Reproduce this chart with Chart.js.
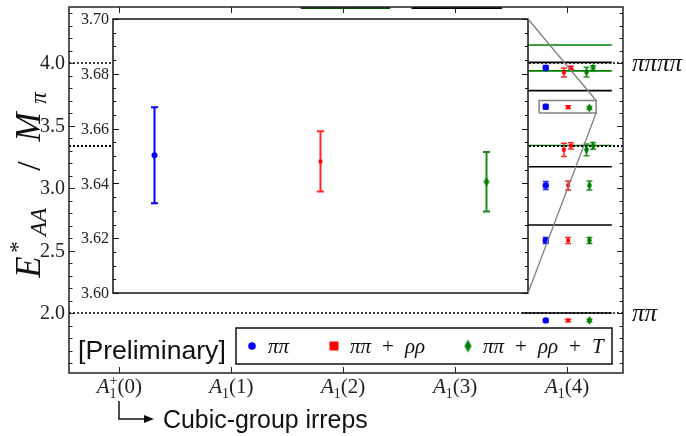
<!DOCTYPE html>
<html><head><meta charset="utf-8">
<script src="https://cdn.jsdelivr.net/npm/chart.js@4.4.1/dist/chart.umd.min.js"></script>
<style>
html,body{margin:0;padding:0;background:#fff;overflow:hidden}
#wrap{position:relative;width:686px;height:436px}
#wrap canvas{position:absolute;left:0;top:0}
</style></head><body>
<div id="wrap"><canvas id="main" width="686" height="436"></canvas><canvas id="inset" width="686" height="436"></canvas></div>
<script>
// ---------------- data ----------------
const irrepPos = [0, 1, 2, 3, 4];
const irrepSub = ['1', '1', '1', '1', '1'];
const irrepSup = ['+', '', '', '', ''];
const irrepMom = ['(0)', '(1)', '(2)', '(3)', '(4)'];
const yTickVals = [2.0, 2.5, 3.0, 3.5, 4.0];
const insetTickVals = [3.60, 3.62, 3.64, 3.66, 3.68, 3.70];
const seriesNames = ['ππ', 'ππ + ρρ', 'ππ + ρρ + T'];
const seriesColors = ['#0000ff', '#ff0000', '#008000'];

// A1(4) spectrum (main panel)
const pipiX = [3.81, 3.81, 3.81, 3.81, 3.81];
const pipiY = [3.960, 3.6503, 3.021, 2.581, 1.941];
const pipiE = [0.020, 0.0175, 0.032, 0.024, 0.010];
const rhoX = [3.972, 4.035, 4.01, 3.972, 4.035, 4.01, 4.01, 4.01];
const rhoY = [3.925, 3.962, 3.648, 3.306, 3.338, 3.021, 2.581, 1.941];
const rhoE = [0.036, 0.012, 0.011, 0.053, 0.025, 0.036, 0.024, 0.010];
const tX = [4.174, 4.232, 4.20, 4.174, 4.232, 4.20, 4.20, 4.20];
const tY = [3.928, 3.960, 3.6406, 3.306, 3.338, 3.021, 2.581, 1.941];
const tE = [0.039, 0.019, 0.0109, 0.047, 0.027, 0.036, 0.024, 0.010];

// inset: the level near 3.65
const insetX = [0, 1, 2];
const insetY = [3.6503, 3.6480, 3.6406];
const insetE = [0.0175, 0.0110, 0.0109];

// non-interacting levels
const a4LevelsBlack = [4.005, 3.779, 3.170, 2.704, 2.000];
const a4LevelsGreen = [4.144, 3.937, 3.340];
const a4LevelSpan = [3.6, 4.4];
const topLevelGreenSpan = [1.62, 2.42];
const topLevelBlackSpan = [2.61, 3.42];
const topLevelValue = 4.44;
// thresholds
const thrPiPi = [2.0, 4.0];
const thrRhoRho = 3.336;
const thrNames = ['ππ', 'ππππ'];
// zoom box (main coords)
const zoomBoxX = [3.75, 4.26];
const zoomBoxY = [3.60, 3.70];

const X_MIN = -0.45, X_MAX = 4.5, Y_MIN = 1.52, Y_MAX = 4.448;
const SERIF = '"Liberation Serif", "DejaVu Serif", serif';
const SANS = '"Liberation Sans", "DejaVu Sans", sans-serif';

// ---------------- helpers ----------------
function diamondImg(w, h, color) {
  const c = document.createElement('canvas');
  c.width = w + 2; c.height = h + 2;
  const g = c.getContext('2d');
  g.fillStyle = color;
  g.beginPath();
  g.moveTo(c.width / 2, 1); g.lineTo(c.width - 1, c.height / 2);
  g.lineTo(c.width / 2, c.height - 1); g.lineTo(1, c.height / 2);
  g.closePath(); g.fill();
  return c;
}
const pts = (xs, ys) => xs.map((x, i) => ({x: x, y: ys[i]}));
const hline = (x0, x1, v) => [{x: x0, y: v}, {x: x1, y: v}];

function drawErrors(chart) {
  const {ctx, scales: {x, y}} = chart;
  chart.data.datasets.forEach(ds => {
    if (!ds.errs) return;
    ctx.save();
    ctx.strokeStyle = ds.errColor; ctx.lineWidth = ds.errWidth;
    ds.data.forEach((p, i) => {
      const px = x.getPixelForValue(p.x);
      const y1 = y.getPixelForValue(p.y + ds.errs[i]);
      const y2 = y.getPixelForValue(p.y - ds.errs[i]);
      ctx.beginPath();
      ctx.moveTo(px, y1); ctx.lineTo(px, y2);
      ctx.moveTo(px - ds.cap, y1); ctx.lineTo(px + ds.cap, y1);
      ctx.moveTo(px - ds.cap, y2); ctx.lineTo(px + ds.cap, y2);
      ctx.stroke();
    });
    ctx.restore();
  });
}
function fitFont(ctx, text, family, style, target) {
  ctx.font = style + ' 100px ' + family;
  const w = ctx.measureText(text).width;
  return 100 * target / w;
}
function mathLabel(ctx, parts, x, y, align) {
  let cur = 0, lastStart = 0;
  const pos = [];
  parts.forEach(p => {
    ctx.font = p.font;
    const w = ctx.measureText(p.t).width;
    let start;
    if (p.stack) { start = lastStart; cur = Math.max(cur, start + w); }
    else { start = cur; cur = start + w; }
    lastStart = start;
    pos.push(start);
  });
  const total = cur;
  let x0 = x;
  if (align === 'center') x0 = x - total / 2;
  else if (align === 'right') x0 = x - total;
  ctx.textBaseline = 'alphabetic'; ctx.textAlign = 'left';
  parts.forEach((p, i) => {
    ctx.font = p.font;
    ctx.fillText(p.t, x0 + pos[i], y + (p.dy || 0));
  });
  return total;
}
function vText(ctx, t, font, sx, sy) {
  ctx.save();
  ctx.translate(sx, sy); ctx.rotate(-Math.PI / 2);
  ctx.font = font; ctx.textAlign = 'center'; ctx.textBaseline = 'alphabetic';
  ctx.fillText(t, 0, 0);
  ctx.restore();
}
// math text with TeX-like wide spacing around binary operators
function spacedText(ctx, s, x, y, gap) {
  const toks = s.split(' ');
  let cx = x;
  toks.forEach((tk, i) => {
    ctx.font = (tk === '+' ? '' : 'italic ') + '21px ' + SERIF;
    ctx.fillText(tk, cx, y);
    cx += ctx.measureText(tk).width + (i < toks.length - 1 ? gap : 0);
  });
}

// ---------------- main chart ----------------
const levelDatasets = [];
a4LevelsBlack.forEach(v => levelDatasets.push({type: 'line', data: hline(a4LevelSpan[0], a4LevelSpan[1], v), borderColor: '#000', borderWidth: 1.6, pointRadius: 0, order: 5}));
a4LevelsGreen.forEach(v => levelDatasets.push({type: 'line', data: hline(a4LevelSpan[0], a4LevelSpan[1], v), borderColor: '#008000', borderWidth: 1.6, pointRadius: 0, order: 5}));
levelDatasets.push({type: 'line', data: hline(topLevelGreenSpan[0], topLevelGreenSpan[1], topLevelValue), borderColor: '#004d00', borderWidth: 2, pointRadius: 0, order: 5});
levelDatasets.push({type: 'line', data: hline(topLevelBlackSpan[0], topLevelBlackSpan[1], topLevelValue), borderColor: '#000', borderWidth: 2, pointRadius: 0, order: 5});
thrPiPi.forEach(v => levelDatasets.push({type: 'line', data: hline(X_MIN, X_MAX, v), borderColor: '#000', borderWidth: 1.3, borderDash: [2, 2], pointRadius: 0, order: 6}));
levelDatasets.push({type: 'line', data: hline(X_MIN, X_MAX, thrRhoRho), borderColor: '#000', borderWidth: 2, borderDash: [2, 2], pointRadius: 0, order: 4});
levelDatasets.push({type: 'line', data: [
  {x: zoomBoxX[0], y: zoomBoxY[0]}, {x: zoomBoxX[1], y: zoomBoxY[0]}, {x: zoomBoxX[1], y: zoomBoxY[1]},
  {x: zoomBoxX[0], y: zoomBoxY[1]}, {x: zoomBoxX[0], y: zoomBoxY[0]}],
  borderColor: '#808080', borderWidth: 1.5, pointRadius: 0, order: 3});

const greenDiamondSmall = diamondImg(5, 9, '#008000');
const greenDiamondLegend = diamondImg(7, 13, '#008000');
const greenDiamondInset = diamondImg(6, 9, '#008000');

const mainDecor = {
  id: 'mainDecor',
  beforeDatasetsDraw(chart) { drawErrors(chart); },
  afterDraw(chart) {
    const {ctx, chartArea: a, scales: {x, y}} = chart;
    ctx.save();
    // frame
    ctx.strokeStyle = '#222'; ctx.lineWidth = 1.5;
    ctx.strokeRect(a.left, a.top, a.right - a.left, a.bottom - a.top);
    // y ticks
    ctx.lineWidth = 1;
    for (let k = Math.ceil(Y_MIN * 10); k <= Math.floor(Y_MAX * 10); k++) {
      const v = k / 10, py = Math.round(y.getPixelForValue(v)) + 0.5;
      const major = yTickVals.some(t => Math.abs(t - v) < 1e-6);
      const L = major ? 6 : 3.5;
      ctx.beginPath();
      ctx.moveTo(a.left, py); ctx.lineTo(a.left + L, py);
      ctx.moveTo(a.right, py); ctx.lineTo(a.right - L, py);
      ctx.stroke();
    }
    // x ticks
    irrepPos.forEach(v => {
      const px = Math.round(x.getPixelForValue(v)) + 0.5;
      ctx.beginPath();
      ctx.moveTo(px, a.bottom); ctx.lineTo(px, a.bottom - 6);
      ctx.moveTo(px, a.top); ctx.lineTo(px, a.top + 6);
      ctx.stroke();
    });
    // y tick labels
    ctx.fillStyle = '#222';
    ctx.font = '20px ' + SERIF; ctx.textAlign = 'right'; ctx.textBaseline = 'middle';
    yTickVals.forEach(v => ctx.fillText(v.toFixed(1), a.left - 4, y.getPixelForValue(v) + 1));
    // x tick labels
    irrepPos.forEach((v, i) => {
      const parts = [
        {t: 'A', font: 'italic 21px ' + SERIF},
        {t: irrepSub[i], font: '14px ' + SERIF, dy: 5},
      ];
      if (irrepSup[i]) parts.push({t: irrepSup[i], font: '14px ' + SERIF, dy: -8, stack: true});
      parts.push({t: irrepMom[i], font: '21px ' + SERIF});
      mathLabel(ctx, parts, x.getPixelForValue(v), a.bottom + 20, 'center');
    });
    // threshold names
    ctx.fillStyle = '#111';
    thrPiPi.forEach((v, i) => {
      ctx.font = 'italic 25px ' + SERIF; ctx.textAlign = 'left'; ctx.textBaseline = 'middle';
      ctx.fillText(thrNames[i], a.right + 9, y.getPixelForValue(v) + 1);
    });
    // y axis title  E*_AA / M_pi
    ctx.fillStyle = '#111';
    vText(ctx, 'E', 'italic 35px ' + SERIF, 40, 267);
    vText(ctx, '*', '23px ' + SERIF, 25, 247);
    vText(ctx, 'AA', 'italic 23px ' + SERIF, 46, 222);
    vText(ctx, '/', '34px ' + SERIF, 40, 166);
    vText(ctx, 'M', 'italic 35px ' + SERIF, 40, 127);
    vText(ctx, 'π', 'italic 23px ' + SERIF, 46, 98);
    // legend
    const L = {l: 236, t: 328, r: 612, b: 364};
    ctx.fillStyle = '#fff'; ctx.fillRect(L.l, L.t, L.r - L.l, L.b - L.t);
    ctx.strokeStyle = '#111'; ctx.lineWidth = 1.5; ctx.strokeRect(L.l, L.t, L.r - L.l, L.b - L.t);
    const my = (L.t + L.b) / 2;
    const mx = [252, 334, 468], tx = [268, 350, 483];
    ctx.fillStyle = seriesColors[0]; ctx.beginPath(); ctx.arc(mx[0], my, 3.8, 0, Math.PI * 2); ctx.fill();
    ctx.fillStyle = seriesColors[1]; ctx.fillRect(mx[1] - 4.5, my - 4.5, 9, 9);
    ctx.drawImage(greenDiamondLegend, mx[2] - greenDiamondLegend.width / 2, my - greenDiamondLegend.height / 2);
    ctx.fillStyle = '#111'; ctx.textAlign = 'left'; ctx.textBaseline = 'middle';
    seriesNames.forEach((s, i) => spacedText(ctx, s, tx[i], my + 1, 11));
    // [Preliminary]
    const fs = fitFont(ctx, '[Preliminary]', SANS, '', 148);
    ctx.font = fs.toFixed(1) + 'px ' + SANS; ctx.textBaseline = 'middle';
    ctx.fillText('[Preliminary]', 78, 352);
    // bottom annotation
    ctx.strokeStyle = '#111'; ctx.lineWidth = 1.5;
    ctx.beginPath(); ctx.moveTo(119, 401); ctx.lineTo(119, 419); ctx.lineTo(146, 419); ctx.stroke();
    ctx.fillStyle = '#111'; ctx.beginPath(); ctx.moveTo(154, 419); ctx.lineTo(144, 415); ctx.lineTo(144, 423); ctx.closePath(); ctx.fill();
    const fs2 = fitFont(ctx, 'Cubic-group irreps', SANS, '', 205);
    ctx.font = fs2.toFixed(1) + 'px ' + SANS;
    ctx.fillText('Cubic-group irreps', 163, 421);
    ctx.restore();
  }
};

const mainChart = new Chart(document.getElementById('main'), {
  type: 'scatter',
  data: {
    datasets: [
      ...levelDatasets,
      {label: seriesNames[0], data: pts(pipiX, pipiY), errs: pipiE, errColor: 'rgba(0,0,255,0.85)', errWidth: 1.5, cap: 3,
       pointStyle: 'circle', pointRadius: 3.2, backgroundColor: '#0000ff', borderWidth: 0, order: 1},
      {label: seriesNames[1], data: pts(rhoX, rhoY), errs: rhoE, errColor: 'rgba(255,0,0,0.85)', errWidth: 1.5, cap: 3,
       pointStyle: 'rect', pointRadius: 2.6, backgroundColor: '#ff0000', borderWidth: 0, order: 1},
      {label: seriesNames[2], data: pts(tX, tY), errs: tE, errColor: 'rgba(0,128,0,0.85)', errWidth: 1.5, cap: 3,
       pointStyle: greenDiamondSmall, pointRadius: 3, backgroundColor: '#008000', borderWidth: 0, order: 1}
    ]
  },
  options: {
    responsive: false, animation: false, devicePixelRatio: 1, events: [],
    layout: {padding: {left: 69, top: 7, right: 63, bottom: 63}},
    scales: {
      x: {type: 'linear', min: X_MIN, max: X_MAX, display: false},
      y: {type: 'linear', min: Y_MIN, max: Y_MAX, display: false}
    },
    plugins: {legend: {display: false}, tooltip: {enabled: false}}
  },
  plugins: [mainDecor]
});

// ---------------- inset chart ----------------
const insetDecor = {
  id: 'insetDecor',
  beforeDraw(chart) {
    const {ctx, chartArea: a} = chart;
    ctx.save(); ctx.fillStyle = '#fff';
    ctx.fillRect(a.left, a.top, a.right - a.left, a.bottom - a.top);
    ctx.restore();
  },
  beforeDatasetsDraw(chart) { drawErrors(chart); },
  afterDraw(chart) {
    const {ctx, chartArea: a, scales: {y}} = chart;
    ctx.save();
    ctx.strokeStyle = '#111'; ctx.lineWidth = 1.5;
    ctx.strokeRect(a.left, a.top, a.right - a.left, a.bottom - a.top);
    ctx.lineWidth = 1;
    for (let k = 720; k <= 740; k++) {
      const v = k / 200, py = Math.round(y.getPixelForValue(v)) + 0.5;
      const major = insetTickVals.some(t => Math.abs(t - v) < 1e-6);
      const L = major ? 6 : 3;
      ctx.beginPath();
      ctx.moveTo(a.left, py); ctx.lineTo(a.left + L, py);
      ctx.moveTo(a.right, py); ctx.lineTo(a.right - L, py);
      ctx.stroke();
    }
    ctx.fillStyle = '#222'; ctx.font = '16px ' + SERIF; ctx.textAlign = 'right'; ctx.textBaseline = 'middle';
    insetTickVals.forEach(v => ctx.fillText(v.toFixed(2), a.left - 4, y.getPixelForValue(v) + 1));
    // connectors to zoom box in main chart
    const mx = mainChart.scales.x, my = mainChart.scales.y;
    ctx.strokeStyle = '#808080'; ctx.lineWidth = 1.3;
    ctx.beginPath();
    ctx.moveTo(a.right, a.top); ctx.lineTo(mx.getPixelForValue(zoomBoxX[1]), my.getPixelForValue(zoomBoxY[1]));
    ctx.moveTo(a.right, a.bottom); ctx.lineTo(mx.getPixelForValue(zoomBoxX[1]), my.getPixelForValue(zoomBoxY[0]));
    ctx.stroke();
    ctx.restore();
  }
};
const insetStyles = [
  {pointStyle: 'circle', pointRadius: 3, backgroundColor: '#0000ff', errColor: '#0000ff'},
  {pointStyle: 'rect', pointRadius: 2.6, backgroundColor: '#ff0000', errColor: 'rgba(255,0,0,0.85)'},
  {pointStyle: greenDiamondInset, pointRadius: 3, backgroundColor: '#008000', errColor: 'rgba(0,128,0,0.9)'}
];
new Chart(document.getElementById('inset'), {
  type: 'scatter',
  data: {
    datasets: insetX.map((xv, i) => Object.assign({
      label: seriesNames[i], data: [{x: xv, y: insetY[i]}], errs: [insetE[i]], errWidth: 2, cap: 3.5, borderWidth: 0
    }, insetStyles[i]))
  },
  options: {
    responsive: false, animation: false, devicePixelRatio: 1, events: [],
    layout: {padding: {left: 113, top: 19, right: 158, bottom: 143}},
    scales: {
      x: {type: 'linear', min: -0.25, max: 2.25, display: false},
      y: {type: 'linear', min: 3.60, max: 3.70, display: false}
    },
    plugins: {legend: {display: false}, tooltip: {enabled: false}}
  },
  plugins: [insetDecor]
});
</script>
</body></html>
